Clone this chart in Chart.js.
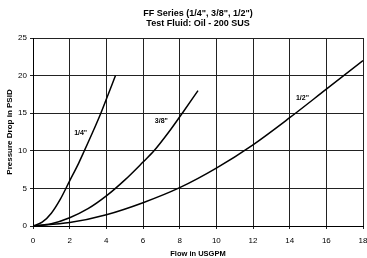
<!DOCTYPE html>
<html>
<head>
<meta charset="utf-8">
<script src="https://cdn.jsdelivr.net/npm/chart.js@4.4.0/dist/chart.umd.min.js"></script>
<style>
  html, body { margin: 0; padding: 0; background: #fff; }
  #wrap { width: 367px; height: 258px; }
</style>
</head>
<body>
<div id="wrap"><canvas id="flowChart" width="367" height="258"></canvas></div>
<script>
// values
const quarterFlow = [0, 0.5, 1, 1.5, 2, 2.5, 2.8, 3.35, 3.7, 4.1, 4.5];
const quarterDrop = [0, 0.5, 1.7, 3.6, 6, 8.4, 10, 13, 15, 17.5, 20];
const threeEighthFlow = [0, 1, 2, 3, 4, 5, 6, 6.6, 7.5, 8.2, 9];
const threeEighthDrop = [0, 0.3, 1.1, 2.3, 4, 6.1, 8.5, 10, 12.8, 15.2, 18];
const halfFlow = [0, 2, 4, 6, 8, 10, 12, 14, 16, 18];
const halfDrop = [0, 0.45, 1.5, 3.1, 5.1, 7.7, 10.8, 14.4, 18.2, 22];
const seriesNames = ['1/4"', '3/8"', '1/2"'];
const labelSpots = [[2.6, 12.4], [7.0, 13.9], [14.7, 17.0]];
const titleLines = ['FF Series (1/4", 3/8", 1/2")', 'Test Fluid: Oil - 200 SUS'];

function toPoints(xs, ys) {
    return xs.map((x, i) => ({ x: x, y: ys[i] }));
}

const FONT = '"Liberation Sans", Arial, sans-serif';

const overlayPlugin = {
    id: 'overlay',
    afterDraw(chart) {
        const ctx = chart.ctx;
        const xs = chart.scales.x, ys = chart.scales.y;
        ctx.save();
        ctx.fillStyle = '#000';
        ctx.textAlign = 'center';
        ctx.textBaseline = 'middle';
        ctx.font = 'bold 9px ' + FONT;
        const cx = (chart.chartArea.left + chart.chartArea.right) / 2;
        ctx.fillText(titleLines[0], cx, 14);
        ctx.fillText(titleLines[1], cx, 24);
        ctx.font = 'bold 7px ' + FONT;
        labelSpots.forEach((p, i) => {
            ctx.fillText(seriesNames[i], xs.getPixelForValue(p[0]), ys.getPixelForValue(p[1]));
        });
        ctx.restore();
    }
};

const lineStyle = {
    showLine: true,
    borderColor: '#000',
    borderWidth: 1.5,
    pointRadius: 0,
    cubicInterpolationMode: 'monotone',
    fill: false
};

new Chart(document.getElementById('flowChart').getContext('2d'), {
    type: 'scatter',
    data: {
        datasets: [
            Object.assign({ label: seriesNames[0], data: toPoints(quarterFlow, quarterDrop) }, lineStyle),
            Object.assign({ label: seriesNames[1], data: toPoints(threeEighthFlow, threeEighthDrop) }, lineStyle),
            Object.assign({ label: seriesNames[2], data: toPoints(halfFlow, halfDrop) }, lineStyle)
        ]
    },
    options: {
        responsive: false,
        animation: false,
        layout: { padding: { top: 38, right: 4, left: 0, bottom: 0 } },
        plugins: {
            legend: { display: false },
            tooltip: { enabled: false },
            title: { display: false }
        },
        scales: {
            x: {
                type: 'linear',
                min: 0,
                max: 18,
                ticks: { stepSize: 2, color: '#000', font: { family: FONT, size: 8 }, padding: 7 },
                grid: { color: '#222', lineWidth: 1, tickLength: 3 },
                border: { color: '#000', width: 1 },
                title: { display: true, text: 'Flow in USGPM', color: '#000', font: { family: FONT, size: 7.5, weight: 'bold' }, padding: { top: 4, bottom: 0 } },
                afterFit(scale) {
                    scale.height = 32;
                    scale.paddingLeft = 0;
                    scale.paddingRight = 0;
                }
            },
            y: {
                min: 0,
                max: 25,
                ticks: { stepSize: 5, color: '#000', font: { family: FONT, size: 8 }, padding: 3 },
                grid: { color: '#222', lineWidth: 1, tickLength: 3 },
                border: { color: '#000', width: 1 },
                title: { display: true, text: 'Pressure Drop in PSID', color: '#000', font: { family: FONT, size: 8, weight: 'bold' }, padding: { top: 5, bottom: 0 } },
                afterFit(scale) {
                    scale.width = 33;
                    scale.paddingTop = 0;
                    scale.paddingBottom = 0;
                }
            }
        }
    },
    plugins: [overlayPlugin]
});
</script>
</body>
</html>
